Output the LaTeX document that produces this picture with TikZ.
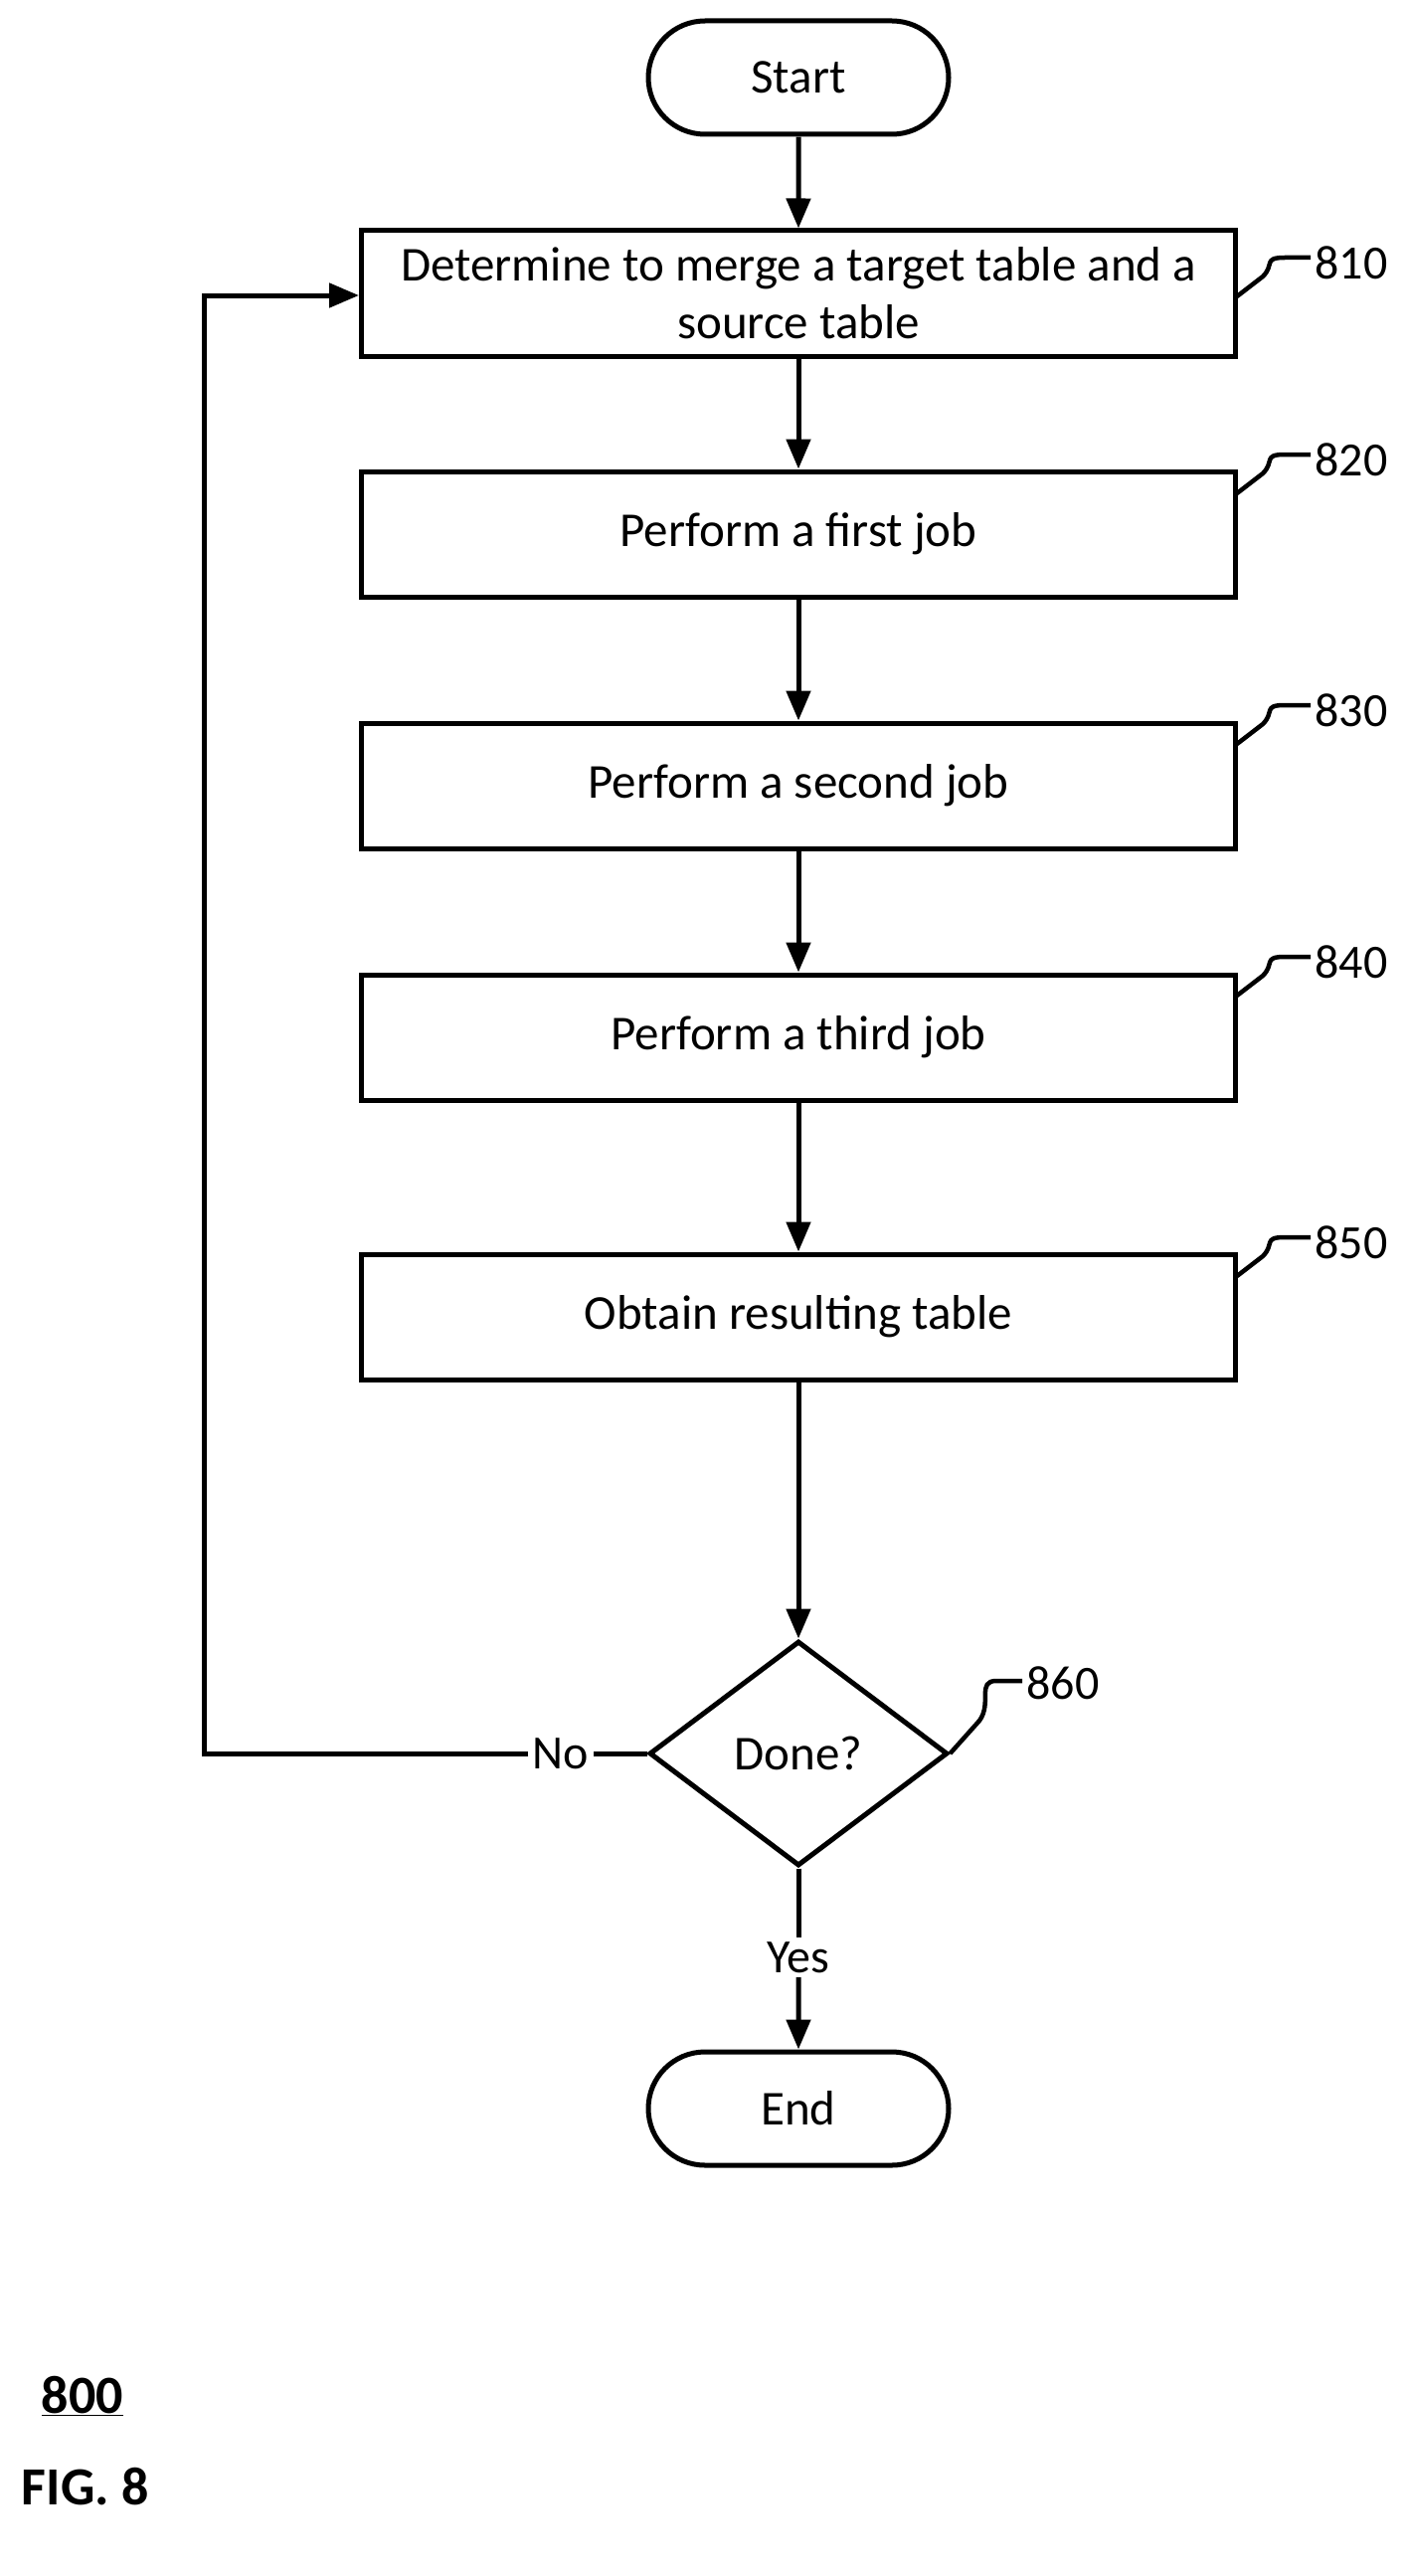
\documentclass[tikz,border=0pt]{standalone}
\usepackage{fontspec}
\setmainfont{Carlito}
\usetikzlibrary{shapes.geometric,shapes.misc,arrows.meta}
\begin{document}
\begin{tikzpicture}[x=1pt,y=-1pt,line width=5pt,
  box/.style={draw,minimum width=879pt,minimum height=126pt,align=center,inner sep=0pt,font=\fontsize{49}{58}\selectfont},
  term/.style={draw,rounded rectangle,minimum width=302pt,minimum height=114pt,inner sep=0pt,font=\fontsize{49}{58}\selectfont},
  arr/.style={-{Triangle[length=30pt,width=24pt]}},
  lbl/.style={font=\fontsize{48}{56}\selectfont,inner sep=2pt},
  lead/.style={line width=4.5pt}]
\useasboundingbox (0,0) rectangle (1415,2590);
\node[term] (start) at (803,78) {Start};
\node[box] (b810) at (803,295) {Determine to merge a target table and a\\source table};
\node[box] (b820) at (803,537) {Perform a first job};
\node[box] (b830) at (803,790) {Perform a second job};
\node[box] (b840) at (803,1043) {Perform a third job};
\node[box] (b850) at (803,1324) {Obtain resulting table};
\node[draw,diamond,minimum width=300pt,minimum height=226pt,inner sep=0pt,font=\fontsize{49}{58}\selectfont] (d) at (803,1763) {Done?};
\node[term] (end) at (803,2120) {End};
\draw[arr] (start) -- (b810);
\draw[arr] (b810) -- (b820);
\draw[arr] (b820) -- (b830);
\draw[arr] (b830) -- (b840);
\draw[arr] (b840) -- (b850);
\draw[arr] (b850) -- (d);
\node[lbl,fill=white] (no) at (564,1763) {No};
\node[lbl,fill=white] (yes) at (803,1968) {Yes};
\coordinate (lc) at (205,1763);
\coordinate (lt) at (205,297);
\draw (d.west) -- (no.east);
\draw[arr] (no.west) -- (lc) -- (lt) -- (b810.west |- lt);
\draw (d.south) -- (yes.north);
\draw[arr] (yes.south) -- (end);
\foreach \n/\y in {810/264,820/462,830/714,840/967,850/1249}{
  \node[lbl,anchor=west] (l\n) at (1318,\y) {\n};
  \draw[lead] (1244,\y+34) -- (1270,\y+14) .. controls (1282,\y+2) and (1270,\y-5) .. (1292,\y-5) -- (l\n.west |- 0,\y-5);
}
\node[lbl,anchor=west] (l860) at (1028,1692) {860};
\draw[lead] (d.east) -- (985,1730) .. controls (998,1712) and (982,1690) .. (1002,1690) -- (l860.west |- 0,1690);
\node[font=\bfseries\fontsize{54}{60}\selectfont,anchor=west] (n800) at (36,2409) {\underline{800}};
\node[font=\bfseries\fontsize{54}{60}\selectfont,anchor=west] (fig) at (16,2500) {FIG. 8};
\end{tikzpicture}
\end{document}
